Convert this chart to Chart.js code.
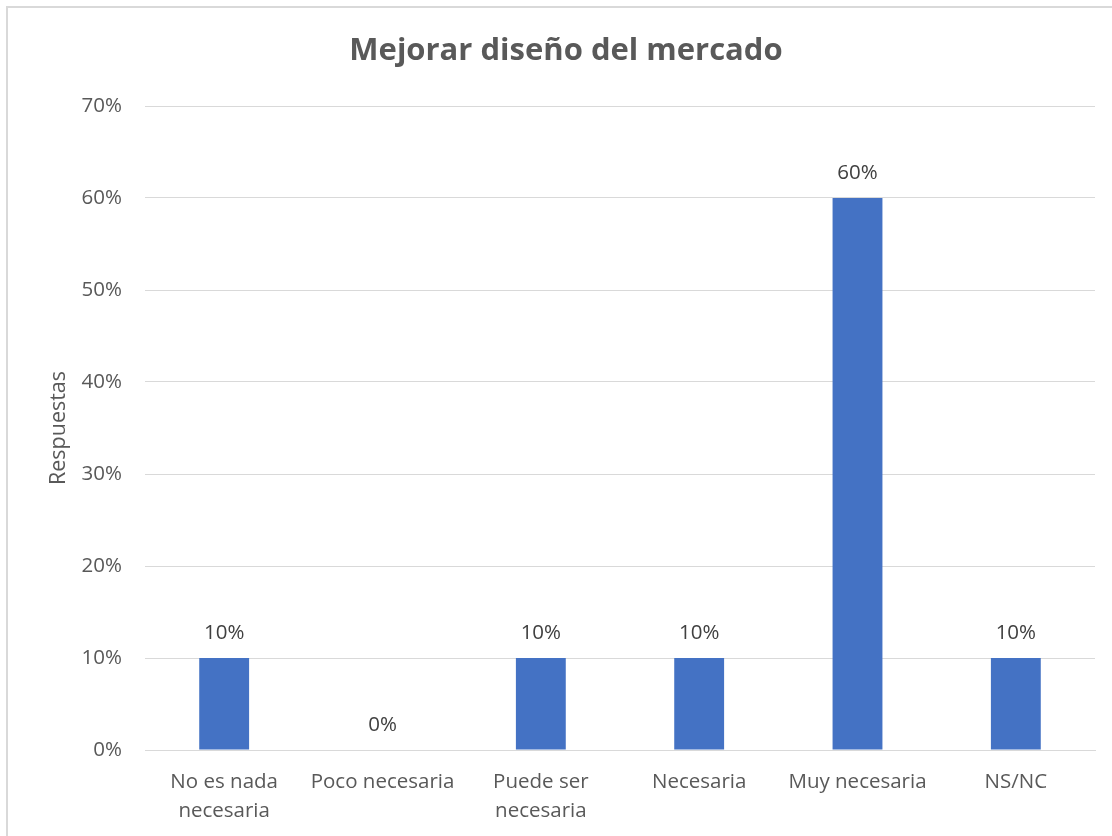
<!DOCTYPE html>
<html>
<head>
<meta charset="utf-8">
<script src="https://cdn.jsdelivr.net/npm/chart.js@4/dist/chart.umd.min.js"></script>
<style>
html,body{margin:0;padding:0;background:#fff;overflow:hidden;}
#wrap{position:relative;width:1112px;height:836px;}
#frame{position:absolute;left:6px;top:6px;width:1120px;height:840px;border:2px solid #d9d9d9;box-sizing:border-box;pointer-events:none;}
canvas{position:absolute;left:0;top:0;}
</style>
</head>
<body>
<div id="wrap">
<canvas id="c" width="1112" height="836"></canvas>
<div id="frame"></div>
</div>
<script>
const chartTitle = "Mejorar diseño del mercado";
const axisTitle = "Respuestas";
const categories = [["No es nada","necesaria"],["Poco necesaria"],["Puede ser","necesaria"],["Necesaria"],["Muy necesaria"],["NS/NC"]];
const values = [0.10, 0.00, 0.10, 0.10, 0.60, 0.10];
const yTicks = [0, 0.1, 0.2, 0.3, 0.4, 0.5, 0.6, 0.7];

const FONT = "'Open Sans', 'Liberation Sans', sans-serif";
const TXT = "#595959";

const pctFmt = v => Math.round(v * 100) + "%";

const labelPlugin = {
  id: "barLabels",
  afterDatasetsDraw(chart) {
    const ctx = chart.ctx;
    const meta = chart.getDatasetMeta(0);
    ctx.save();
    ctx.font = "20.5px " + FONT;
    ctx.fillStyle = "#404040";
    ctx.textAlign = "center";
    ctx.textBaseline = "middle";
    meta.data.forEach((el, i) => {
      ctx.fillText(pctFmt(values[i]), el.x, el.y - 25);
    });
    ctx.restore();
  }
};

const titlePlugin = {
  id: "mainTitle",
  afterDraw(chart) {
    const ctx = chart.ctx;
    ctx.save();
    ctx.font = "bold 31px " + FONT;
    ctx.fillStyle = TXT;
    ctx.textAlign = "center";
    ctx.textBaseline = "alphabetic";
    ctx.fillText(chartTitle, 566, 60);
    ctx.restore();
  }
};

new Chart(document.getElementById("c"), {
  type: "bar",
  data: {
    labels: categories,
    datasets: [{
      data: values,
      backgroundColor: "#4472C4",
      borderWidth: 0,
      barPercentage: 0.63,
      categoryPercentage: 0.5
    }]
  },
  options: {
    responsive: false,
    animation: false,
    devicePixelRatio: 1,
    layout: { padding: { left: 0, right: 17, top: 106, bottom: 0 } },
    plugins: {
      legend: { display: false },
      tooltip: { enabled: false },
      title: { display: false }
    },
    scales: {
      x: {
        grid: { display: false, drawTicks: false },
        border: { display: true, color: "#d9d9d9", width: 1 },
        ticks: { color: TXT, font: { family: FONT, size: 20.5, lineHeight: 1.45 }, padding: 17, maxRotation: 0, autoSkip: false },
        afterFit(s) { s.height = 86; }
      },
      y: {
        min: 0,
        max: 0.7,
        afterBuildTicks(s) { s.ticks = yTicks.map(v => ({ value: v })); },
        grid: { color: "#d9d9d9", lineWidth: 1, drawTicks: false },
        border: { display: false },
        ticks: { color: TXT, font: { family: FONT, size: 20.5 }, padding: 23, callback: v => pctFmt(v) },
        title: { display: true, text: axisTitle, color: TXT, font: { family: FONT, size: 21.5, lineHeight: 1.2 }, padding: { top: 46, bottom: 0 } },
        afterFit(s) { s.width = 145; }
      }
    }
  },
  plugins: [labelPlugin, titlePlugin]
});
</script>
</body>
</html>
